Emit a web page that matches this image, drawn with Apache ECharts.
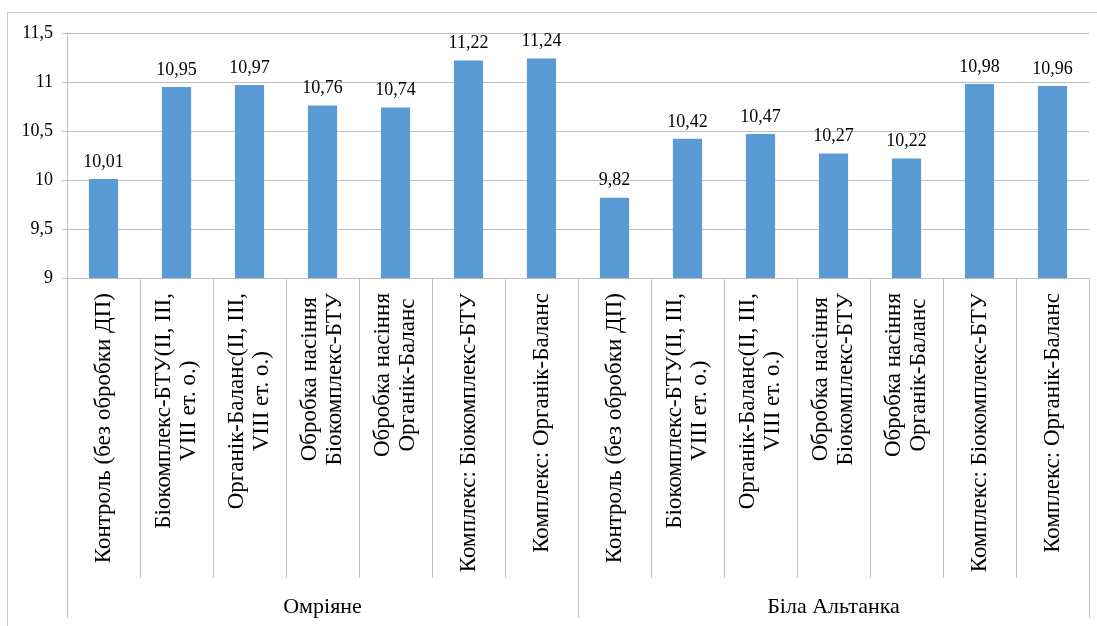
<!DOCTYPE html>
<html>
<head>
<meta charset="utf-8">
<script src="https://cdn.jsdelivr.net/npm/echarts@6/dist/echarts.min.js"></script>
<style>html,body{margin:0;padding:0;background:#fff;}#c{width:1097px;height:626px;}</style>
</head>
<body>
<div id="c"></div>
<script>
const treatments = [
  'Контроль (без обробки ДП)',
  'Біокомплекс-БТУ(ІІ, ІІІ,\nVIII ет. о.)',
  'Органік-Баланс(ІІ, ІІІ,\nVIII ет. о.)',
  'Обробка насіння\nБіокомплекс-БТУ',
  'Обробка насіння\nОрганік-Баланс',
  'Комплекс: Біокомплекс-БТУ',
  'Комплекс: Органік-Баланс'
];
const groups = ['Омріяне', 'Біла Альтанка'];
const valuesOmriiane = [10.01, 10.95, 10.97, 10.76, 10.74, 11.22, 11.24];
const valuesBilaAltanka = [9.82, 10.42, 10.47, 10.27, 10.22, 10.98, 10.96];
const yMin = 9, yMax = 11.5, yStep = 0.5;

const categories = groups.flatMap(() => treatments);
const values = valuesOmriiane.concat(valuesBilaAltanka);

const FONT = '"Liberation Serif", "Times New Roman", serif';
const CAT_SIZE = 23;
const CAT_LH = 25;
const LABEL_GAP = 15;
const GRID = '#BFBFBF';

const ctx = document.createElement('canvas').getContext('2d');
ctx.font = CAT_SIZE + 'px ' + FONT;
const measure = s => ctx.measureText(s).width;

const chart = echarts.init(document.getElementById('c'));
chart.setOption({
  animation: false,
  backgroundColor: '#fff',
  graphic: [{
    type: 'rect', silent: true, z: -10,
    shape: {x: 7.5, y: 12.5, width: 1200, height: 800},
    style: {fill: 'none', stroke: '#C8C8C8', lineWidth: 1}
  }],
  grid: {left: 67, right: 8, top: 33, bottom: 348, containLabel: false},
  xAxis: [{
    type: 'category',
    data: categories,
    axisLine: {show: true, lineStyle: {color: GRID, width: 1}},
    axisTick: {show: true, length: 300, interval: 0, lineStyle: {color: GRID}},
    axisLabel: {show: false}
  }, {
    type: 'category',
    data: groups,
    position: 'bottom',
    axisLine: {show: false},
    axisTick: {show: true, length: 340, interval: 0, lineStyle: {color: GRID}},
    axisLabel: {interval: 0, margin: 318, fontFamily: FONT, fontSize: 22, color: '#000'}
  }],
  yAxis: {
    type: 'value', min: yMin, max: yMax, interval: yStep,
    axisLine: {show: true, lineStyle: {color: GRID}},
    axisTick: {show: true, length: 5, lineStyle: {color: GRID}},
    splitLine: {show: true, lineStyle: {color: GRID}},
    axisLabel: {
      margin: 14, fontFamily: FONT, fontSize: 18, color: '#000',
      formatter: v => String(v).replace('.', ',')
    }
  },
  series: [{
    type: 'bar',
    xAxisIndex: 0,
    data: values,
    barWidth: '40%',
    itemStyle: {color: '#5B9BD5'},
    label: {
      show: true, position: 'top', distance: 8,
      fontFamily: FONT, fontSize: 18, color: '#000',
      formatter: p => p.value.toFixed(2).replace('.', ',')
    }
  }, {
    // rotated category labels: block starts just below the axis, lines centred
    type: 'custom',
    xAxisIndex: 0, yAxisIndex: 0,
    silent: true, clip: false, z: 5,
    data: categories.map((c, i) => [i, yMin]),
    renderItem: (params, api) => {
      const i = api.value(0);
      const p = api.coord([i, yMin]);
      const lines = categories[i].split('\n');
      const maxW = Math.max.apply(null, lines.map(measure));
      const cy = p[1] + LABEL_GAP + maxW / 2;
      return {
        type: 'group',
        children: lines.map((l, j) => ({
          type: 'text',
          x: p[0] + (j - (lines.length - 1) / 2) * CAT_LH,
          y: cy,
          rotation: Math.PI / 2,
          style: {text: l, font: CAT_SIZE + 'px ' + FONT, fill: '#000',
                  align: 'center', verticalAlign: 'middle'}
        }))
      };
    }
  }]
});
</script>
</body>
</html>
